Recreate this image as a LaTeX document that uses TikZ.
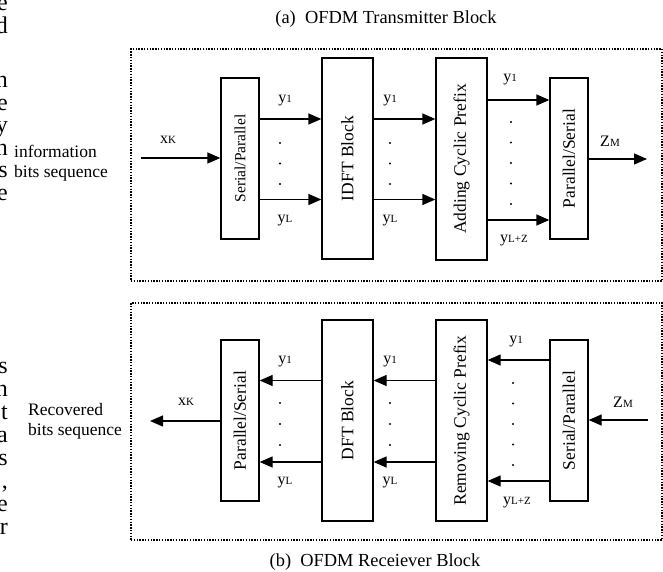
\documentclass[tikz,border=0pt]{standalone}
\usepackage{fontspec}
\setmainfont{Liberation Serif}
\usetikzlibrary{arrows.meta}

% signal name with a small index sitting on the baseline
\newcommand{\sigl}[2]{#1{\fontsize{11}{11}\selectfont #2}}

\tikzset{
  blockbox/.style={draw, line width=1.3pt, inner sep=0pt},
  blocktext/.style={rotate=90, font=\fontsize{17.5}{20}\selectfont, inner sep=0pt},
  sigarrow/.style={line width=1.3pt, -{Triangle[length=13pt,width=11pt]}},
  framebox/.style={draw, line width=1.5pt, dash pattern=on 1.4pt off 1.4pt, inner sep=0pt},
  siglabel/.style={font=\fontsize{16}{16}\selectfont, inner sep=0pt},
  sidetext/.style={font=\fontsize{17.5}{20}\selectfont, align=left, inner sep=0pt, anchor=west},
  titletext/.style={font=\fontsize{18.4}{20}\selectfont, inner sep=0pt, anchor=base},
  frag/.style={font=\fontsize{24}{24}\selectfont, inner sep=0pt, anchor=base east},
}

\begin{document}
\begin{tikzpicture}[x=1pt,y=-1pt]
\useasboundingbox (0,0) rectangle (663,572);
\clip (0,0) rectangle (663,572);

% ---------- clipped paragraph text along the left edge ----------
\foreach \ch/\yy [count=\i] in {e/11, d/34, n/88, e/110.5, y/133, n/155.5, s/178, e/200.5,
                               s/373, n/396, t/419, a/442, s/465, {,}/488, e/511, r/534}
  \node[frag] (frag\i) at (8,\yy) {\ch};

% ---------- (a) transmitter ----------
\node[titletext] (ta) at (386,24) {(a)\ \ OFDM Transmitter Block};
\node[framebox, minimum width=531pt, minimum height=232pt] (fa) at (396.5,165) {};

\node[blockbox, minimum width=38pt, minimum height=161pt] (sp1) at (240,158.5) {};
\node[blocktext, font=\fontsize{15.5}{18}\selectfont] (sp1t) at (sp1) {Serial/Parallel};
\node[blockbox, minimum width=51pt, minimum height=201pt] (idft) at (347.5,158.5) {};
\node[blocktext] (idftt) at (idft) {IDFT Block};
\node[blockbox, minimum width=51pt, minimum height=202pt] (acp) at (461.5,159) {};
\node[blocktext] (acpt) at (acp) {Adding Cyclic Prefix};
\node[blockbox, minimum width=38pt, minimum height=161pt] (ps1) at (569,158.5) {};
\node[blocktext] (ps1t) at (ps1) {Parallel/Serial};

\node[sidetext] (info) at (14,163) {information\\bits sequence};

\coordinate (ina) at (141,158);
\coordinate (outa) at (647,159);
\coordinate (ra1) at (0,119);
\coordinate (ra2) at (0,199.5);
\coordinate (ra3) at (0,100);
\coordinate (ra4) at (0,220);

\draw[sigarrow] (ina) -- (sp1.west |- ina);
\draw[sigarrow] (sp1.east |- ra1) -- (idft.west |- ra1);
\draw[sigarrow] (sp1.east |- ra2) -- (idft.west |- ra2);
\draw[sigarrow] (idft.east |- ra1) -- (acp.west |- ra1);
\draw[sigarrow] (idft.east |- ra2) -- (acp.west |- ra2);
\draw[sigarrow] (acp.east |- ra3) -- (ps1.west |- ra3);
\draw[sigarrow] (acp.east |- ra4) -- (ps1.west |- ra4);
\draw[sigarrow] (ps1.east |- outa) -- (outa);

\node[siglabel] (xa) at (168,140) {\sigl{x}{K}};
\node[siglabel] (ya1) at (285,101) {\sigl{y}{1}};
\node[siglabel] (ya2) at (285,221) {\sigl{y}{L}};
\node[siglabel] (ya3) at (390,101) {\sigl{y}{1}};
\node[siglabel] (ya4) at (390,221) {\sigl{y}{L}};
\node[siglabel] (ya5) at (510,80) {\sigl{y}{1}};
\node[siglabel] (ya6) at (514,241) {\sigl{y}{L+Z}};
\node[siglabel] (za) at (610,141) {\sigl{Z}{M}};

\foreach \yy in {143,163.5,184} {
  \fill (280,\yy) circle (1.1pt);
  \fill (390,\yy) circle (1.1pt);
}
\foreach \yy in {122,142.5,163,183.5,204} \fill (511,\yy) circle (1.1pt);

% ---------- (b) receiver ----------
\node[titletext] (tb) at (375,566) {(b)\ \ OFDM Receiever Block};
\node[framebox, minimum width=531pt, minimum height=237pt] (fb) at (396.5,421.5) {};

\node[blockbox, minimum width=38pt, minimum height=161pt] (ps2) at (240,420.5) {};
\node[blocktext] (ps2t) at (ps2) {Parallel/Serial};
\node[blockbox, minimum width=51pt, minimum height=201pt] (dft) at (347.5,420.5) {};
\node[blocktext] (dftt) at (dft) {DFT Block};
\node[blockbox, minimum width=51pt, minimum height=201pt] (rcp) at (461.5,420.5) {};
\node[blocktext] (rcpt) at (rcp) {Removing Cyclic Prefix};
\node[blockbox, minimum width=38pt, minimum height=161pt] (sp2) at (569,420.5) {};
\node[blocktext] (sp2t) at (sp2) {Serial/Parallel};

\node[sidetext] (recov) at (28,421) {Recovered\\bits sequence};

\coordinate (inb) at (648,420);
\coordinate (outb) at (150,421);
\coordinate (rb1) at (0,380.5);
\coordinate (rb2) at (0,462);
\coordinate (rb3) at (0,360);
\coordinate (rb4) at (0,481);

\draw[sigarrow] (inb) -- (sp2.east |- inb);
\draw[sigarrow] (sp2.west |- rb3) -- (rcp.east |- rb3);
\draw[sigarrow] (sp2.west |- rb4) -- (rcp.east |- rb4);
\draw[sigarrow] (rcp.west |- rb1) -- (dft.east |- rb1);
\draw[sigarrow] (rcp.west |- rb2) -- (dft.east |- rb2);
\draw[sigarrow] (dft.west |- rb1) -- (ps2.east |- rb1);
\draw[sigarrow] (dft.west |- rb2) -- (ps2.east |- rb2);
\draw[sigarrow] (ps2.west |- outb) -- (outb);

\node[siglabel] (xb) at (186,402) {\sigl{x}{K}};
\node[siglabel] (yb1) at (285,362) {\sigl{y}{1}};
\node[siglabel] (yb2) at (285,483) {\sigl{y}{L}};
\node[siglabel] (yb3) at (390,362) {\sigl{y}{1}};
\node[siglabel] (yb4) at (390,483) {\sigl{y}{L}};
\node[siglabel] (yb5) at (516,342) {\sigl{y}{1}};
\node[siglabel] (yb6) at (517,503) {\sigl{y}{L+Z}};
\node[siglabel] (zb) at (623,402) {\sigl{Z}{M}};

\foreach \yy in {403,424,445} {
  \fill (280,\yy) circle (1.1pt);
  \fill (390,\yy) circle (1.1pt);
}
\foreach \yy in {383,403.5,424,444.5,465} \fill (513,\yy) circle (1.1pt);
\end{tikzpicture}
\end{document}
